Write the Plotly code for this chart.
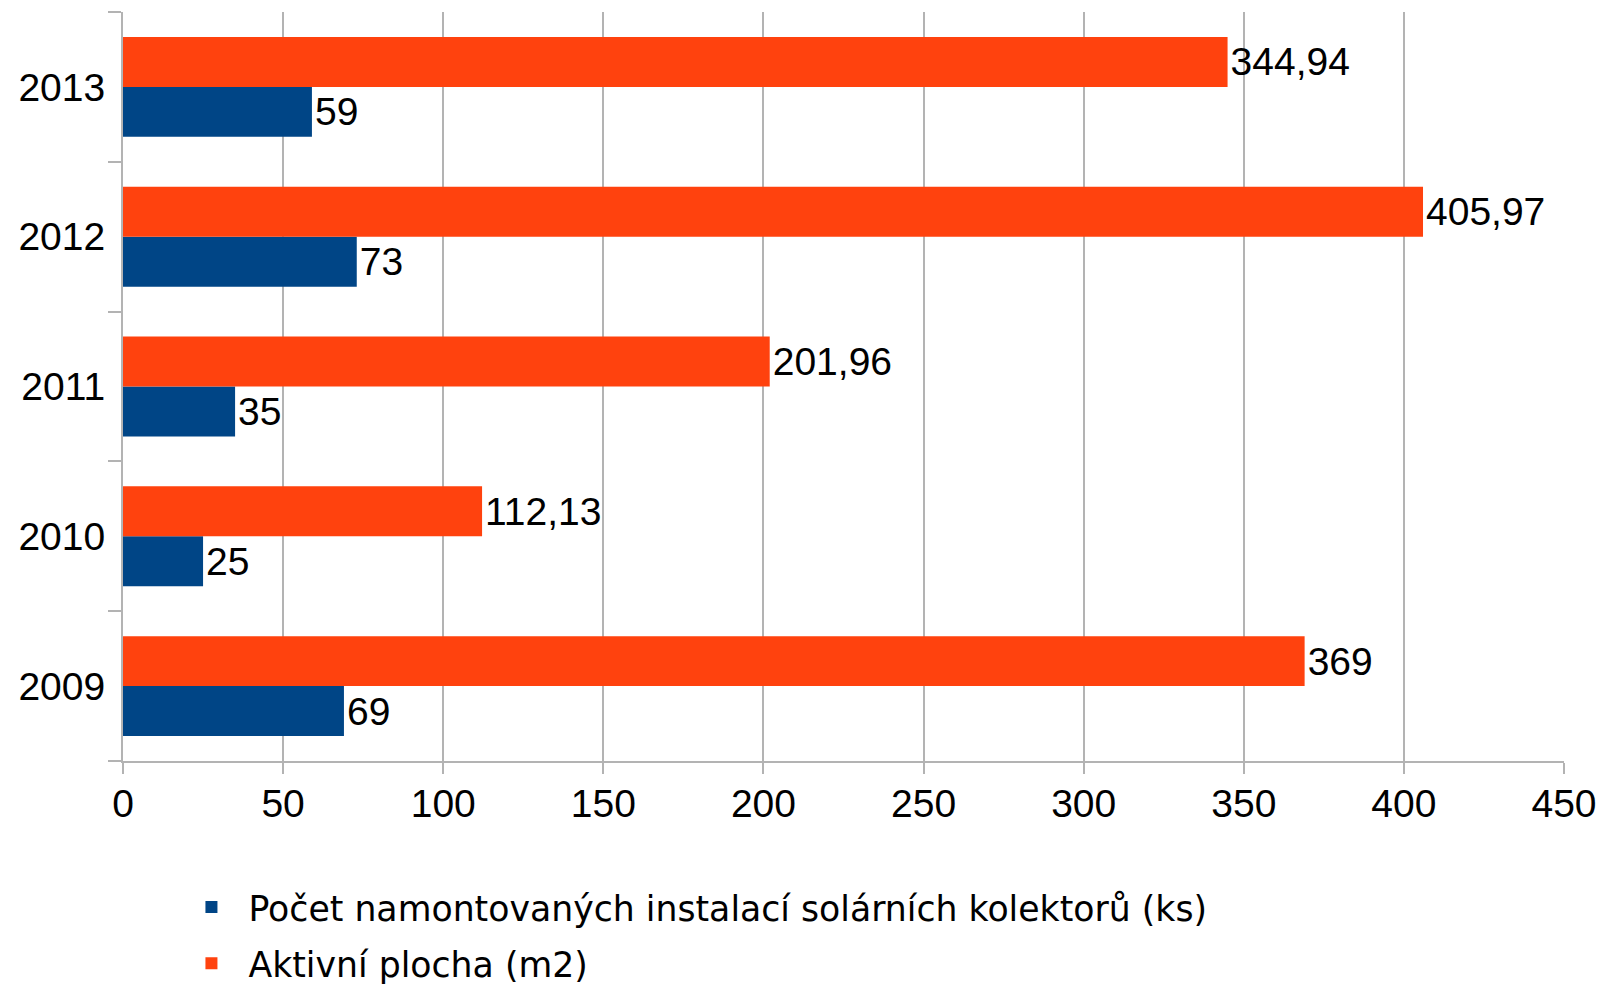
import plotly.graph_objects as go

years = ["2009", "2010", "2011", "2012", "2013"]
pocet = [69, 25, 35, 73, 59]
plocha = [369, 112.13, 201.96, 405.97, 344.94]
x_ticks = [0, 50, 100, 150, 200, 250, 300, 350, 400, 450]

name_pocet = "Počet namontovaných instalací solárních kolektorů (ks)"
name_plocha = "Aktivní plocha (m2)"

def fmt(v):
    return f"{v:g}".replace(".", ",")

BLUE = "#004586"
ORANGE = "#ff420e"
GRID = "#b3b3b3"
FONT = "Liberation Sans, Arial, sans-serif"

fig = go.Figure()
fig.add_trace(go.Bar(
    y=years, x=pocet, orientation="h", name=name_pocet,
    marker=dict(color=BLUE, line=dict(width=0)),
    text=[fmt(v) for v in pocet], textposition="outside",
    textfont=dict(family=FONT, size=39, color="black"),
    constraintext="none", cliponaxis=False, legendgroup="a",
))
fig.add_trace(go.Bar(
    y=years, x=plocha, orientation="h", name=name_plocha,
    marker=dict(color=ORANGE, line=dict(width=0)),
    text=[fmt(v) for v in plocha], textposition="outside",
    textfont=dict(family=FONT, size=39, color="black"),
    constraintext="none", cliponaxis=False, legendgroup="b",
))

fig.update_layout(
    width=1600, height=986,
    margin=dict(l=123, r=36, t=12, b=225, autoexpand=False),
    barmode="group", bargap=1/3, bargroupgap=0,
    plot_bgcolor="white", paper_bgcolor="white",
    font=dict(family=FONT, size=39, color="black"),
    xaxis=dict(
        range=[0, 450], tickvals=x_ticks, showgrid=True, gridcolor=GRID, gridwidth=2,
        zeroline=False, showline=True, linecolor=GRID, linewidth=2,
        ticks="outside", ticklen=11, tickcolor=GRID, tickwidth=2, tickangle=0,
        ticklabelstandoff=-4,
        tickfont=dict(family=FONT, size=39, color="black"),
    ),
    yaxis=dict(
        type="category", categoryorder="array", categoryarray=years,
        showgrid=False, zeroline=False, showline=True, linecolor=GRID, linewidth=2,
        ticks="outside", tickson="boundaries", ticklen=13, tickcolor=GRID, tickwidth=2,
        ticklabelstandoff=8,
        tickfont=dict(family=FONT, size=39, color="black"),
    ),
    showlegend=True,
    legend=dict(
        orientation="v", x=0.0357, xanchor="left", y=-0.3097, yanchor="bottom",
        xref="paper", yref="paper",
        font=dict(family="DejaVu Sans", size=34.7, color="black"),
        traceorder="grouped", tracegroupgap=8, itemwidth=64,
        bgcolor="rgba(0,0,0,0)",
    ),
)

fig.write_html(
    "out.html",
    config={"displayModeBar": False},
    post_script="document.body.style.margin='0';document.body.style.overflow='hidden';",
)
